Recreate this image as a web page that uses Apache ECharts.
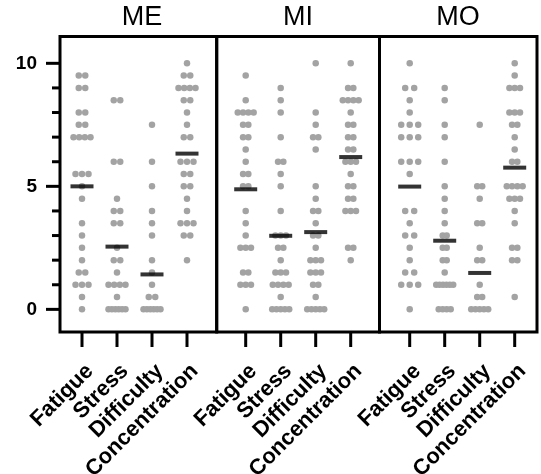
<!DOCTYPE html>
<html>
<head>
<meta charset="utf-8">
<script src="https://cdn.jsdelivr.net/npm/echarts@6/dist/echarts.min.js"></script>
<style>
html,body{margin:0;padding:0;background:#fff;}
#chart{width:541px;height:474px;}
</style>
</head>
<body>
<div id="chart"></div>
<script>
// ---------- DATA ----------
const CATEGORIES = ['Fatigue', 'Stress', 'Difficulty', 'Concentration'];
const PANELS = ['ME', 'MI', 'MO'];
const Y_LABEL_TICKS = [0, 5, 10];
const Y_MINOR_TICKS = [1, 2, 3, 4, 6, 7, 8, 9];

const ME_FATIGUE = [9.5,9.5,9,9,8,8,7.5,7.5,7,7,7,7,5.5,5.5,5.5,5,4.5,3.5,3,2.5,2,1.5,1.5,1,1,1,0.5,0];
const ME_STRESS = [8.5,8.5,6,6,4.5,4,4,3.5,3.5,2.5,2,2,1.5,1,1,1,1,0.5,0,0,0,0,0,0];
const ME_DIFFICULTY = [7.5,6,5,4,3.5,3,2,1.5,1,0.5,0.5,0,0,0,0,0,0];
const ME_CONCENTRATION = [10,9.5,9.5,9,9,9,9,8.5,8.5,8,7.5,7,7,6,6,6,5.5,5.5,5,5,4.5,4,3.5,3.5,3.5,3,3,2];
const ME_MEANS = [5.0, 2.55, 1.42, 6.33];

const MI_FATIGUE = [9.5,8.5,8,8,8,8,7.5,7.5,7,7,6.5,6,5.5,5.5,5,5,4,3.5,3,2.5,2.5,2.5,1.5,1.5,1,1,1,0];
const MI_STRESS = [9,8.5,8,7,6,6,5.5,5,4,3,3,3,2.5,2.5,2,1.5,1.5,1.5,1,1,1,1,0.5,0,0,0,0,0];
const MI_DIFFICULTY = [10,8,7.5,7,7,6.5,5,4.5,4,4,3.5,3,3,2.5,2,2,2,1.5,1.5,1.5,1,1,0.5,0,0,0,0,0];
const MI_CONCENTRATION = [10,9,9,8.5,8.5,8.5,8.5,8,7.5,7.5,7,7,6.5,6.5,6,6,6,5.5,5,5,4.5,4.5,4,4,4,2.5,2.5,2];
const MI_MEANS = [4.88, 2.99, 3.14, 6.19];

const MO_FATIGUE = [10,9,9,8.5,8,7.5,7.5,7.5,7,7,7,6,6,6,5.5,4,4,3.5,3,3,2.5,2,1.5,1.5,1,1,1,0];
const MO_STRESS = [9,8.5,7.5,7,6,5,4.5,4,3.5,3,3,2.5,2.5,2,2,1.5,1,1,1,1,1,1,0,0,0,0];
const MO_DIFFICULTY = [7.5,5,5,4.5,3.5,3.5,2.5,2,2,1,0.5,0.5,0,0,0,0,0];
const MO_CONCENTRATION = [10,9.5,9,9,9,8,8,8,7.5,7.5,7,6.5,6,6,5,5,5,5,4.5,4.5,4.5,4,3.5,2.5,2.5,2,2,0.5];
const MO_MEANS = [4.99, 2.79, 1.48, 5.76];

const PANEL_DATA = [
  [ME_FATIGUE, ME_STRESS, ME_DIFFICULTY, ME_CONCENTRATION],
  [MI_FATIGUE, MI_STRESS, MI_DIFFICULTY, MI_CONCENTRATION],
  [MO_FATIGUE, MO_STRESS, MO_DIFFICULTY, MO_CONCENTRATION]
];
const PANEL_MEANS = [ME_MEANS, MI_MEANS, MO_MEANS];
const CAT_TICKS = [0, 1, 2, 3];

// ---------- LAYOUT / STYLE ----------
const L = {
  edges: [60, 216.7, 379.5, 537],
  zeroX: [82, 245.7, 409.7],
  pxPerCat: 35,
  top: 36.5,
  bottom: 332,
  yMin: -0.92,
  yMax: 11.09,
  xTickLen: 15,
  yTickLen: 14,
  yMinorLen: 8,
  titleX: [142, 298, 458],
  titleY: 18,
  dotSpacing: [[6.5, 6.5, 6.5, 6.5], [5.3, 5.3, 5.3, 5.3], [9, 4, 5, 5.3]],
  maxSpan: 17,
  dotColor: '#a3a3a3'
};

function jitter(values, spPx) {
  const groups = {};
  values.forEach(v => { groups[v] = (groups[v] || 0) + 1; });
  const out = [];
  Object.keys(groups).forEach(k => {
    const n = groups[k];
    const s = n > 1 ? Math.min(spPx, L.maxSpan / (n - 1)) : 0;
    for (let i = 0; i < n; i++) {
      out.push({ off: (i - (n - 1) / 2) * s / L.pxPerCat, v: Number(k) });
    }
  });
  return out;
}

const FONT = '"Liberation Sans", Arial, sans-serif';
const grids = [], xAxes = [], yAxes = [], series = [], graphics = [];
PANELS.forEach((name, p) => {
  const left = L.edges[p], right = L.edges[p + 1];
  const xmin = (left - L.zeroX[p]) / L.pxPerCat, xmax = (right - L.zeroX[p]) / L.pxPerCat;
  grids.push({
    left: left, top: L.top, width: right - left, height: L.bottom - L.top,
    containLabel: false, outerBoundsMode: 'none',
    show: true, borderColor: '#000', borderWidth: 3, backgroundColor: 'transparent'
  });
  xAxes.push({
    type: 'value', gridIndex: p, min: xmin, max: xmax,
    axisLine: { show: false, onZero: false },
    splitLine: { show: false },
    axisTick: { show: false },
    axisLabel: {
      show: true, customValues: CAT_TICKS, rotate: 45, margin: 28, verticalAlign: 'top',
      formatter: v => CATEGORIES[Math.round(v)],
      color: '#000', fontWeight: 'bold', fontSize: 22, fontFamily: FONT
    }
  });
  yAxes.push({
    type: 'value', gridIndex: p, min: L.yMin, max: L.yMax,
    show: p === 0,
    axisLine: { show: false, onZero: false }, splitLine: { show: false },
    axisTick: { show: false },
    axisLabel: {
      show: true, customValues: Y_LABEL_TICKS, margin: 23,
      color: '#000', fontWeight: 'bold', fontSize: 19, fontFamily: FONT
    }
  });
  const pts = [];
  PANEL_DATA[p].forEach((vals, c) => {
    jitter(vals, L.dotSpacing[p][c]).forEach(d => pts.push([c + d.off, d.v]));
  });
  series.push({
    type: 'scatter', xAxisIndex: p, yAxisIndex: p, data: pts,
    symbol: 'circle', symbolSize: 6.5, itemStyle: { color: L.dotColor, opacity: 1 },
    silent: true, z: 2
  });
  series.push({
    type: 'scatter', xAxisIndex: p, yAxisIndex: p,
    data: PANEL_MEANS[p].map((m, c) => [c, m]),
    symbol: 'rect', symbolSize: [23, 4], itemStyle: { color: '#000' },
    silent: true, z: 3
  });
  // category ticks below the panel, placed through the panel's x scale
  series.push({
    type: 'custom', xAxisIndex: p, yAxisIndex: p, clip: false, silent: true, z: 4,
    data: CAT_TICKS.map(c => [c, 0]),
    encode: { x: 0, y: 1 },
    renderItem: (params, api) => {
      const pt = api.coord([api.value(0), L.yMin]);
      return { type: 'line', shape: { x1: pt[0], y1: pt[1], x2: pt[0], y2: pt[1] + L.xTickLen },
               style: { stroke: '#000', lineWidth: 3 } };
    }
  });
  graphics.push({
    type: 'text', x: L.titleX[p], y: L.titleY,
    style: { text: name, fill: '#000', font: '27px ' + FONT, textAlign: 'center', textVerticalAlign: 'middle' }
  });
});

// value-axis ticks: a thin strip grid left of the first panel, sharing its y range
{
  const gi = grids.length;
  grids.push({
    left: L.edges[0] - L.yTickLen, top: L.top, width: L.yTickLen, height: L.bottom - L.top,
    containLabel: false, outerBoundsMode: 'none', show: false
  });
  xAxes.push({ type: 'value', gridIndex: gi, show: false, min: 0, max: 1 });
  yAxes.push({ type: 'value', gridIndex: gi, show: false, min: L.yMin, max: L.yMax });
  const mk = (vals, len) => ({
    type: 'scatter', xAxisIndex: gi, yAxisIndex: gi, clip: false, silent: true, z: 4,
    data: vals.map(v => [1, v]),
    symbol: 'rect', symbolSize: [len, 3], symbolOffset: [-len / 2, 0],
    itemStyle: { color: '#000', opacity: 1 }
  });
  series.push(mk(Y_LABEL_TICKS, L.yTickLen));
  series.push(mk(Y_MINOR_TICKS, L.yMinorLen));
}

const chart = echarts.init(document.getElementById('chart'), null, { renderer: 'canvas' });
chart.setOption({
  animation: false,
  backgroundColor: '#fff',
  grid: grids, xAxis: xAxes, yAxis: yAxes, series: series, graphic: graphics
});
</script>
</body>
</html>
